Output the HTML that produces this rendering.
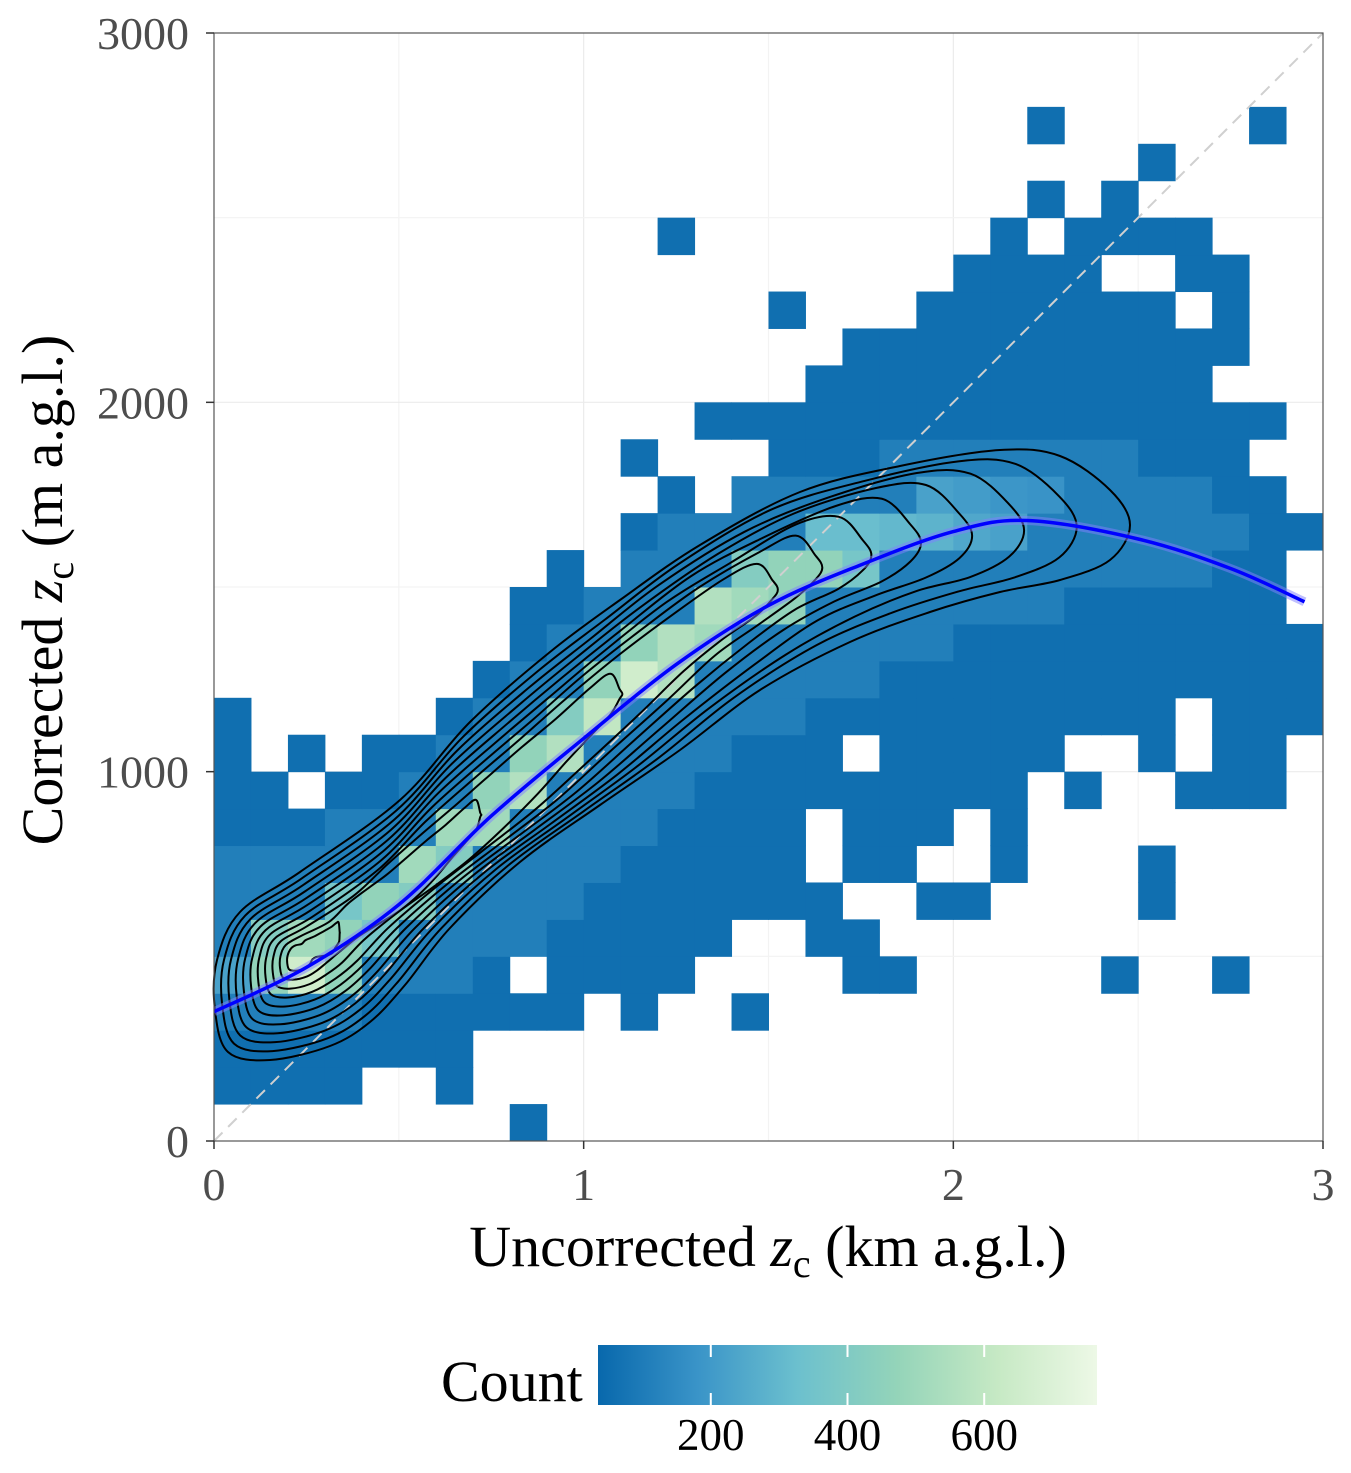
<!DOCTYPE html>
<html><head><meta charset="utf-8"><style>
body{margin:0;background:#fff}
svg text{font-family:"Liberation Serif",serif}
</style></head><body>
<svg id="chart" width="1351" height="1468" xmlns="http://www.w3.org/2000/svg">
<defs>
<linearGradient id="lg" x1="0" x2="1" y1="0" y2="0">
<stop offset="0" stop-color="#0868ac"/><stop offset="0.2" stop-color="#3a94c8"/><stop offset="0.4" stop-color="#6cc0ce"/><stop offset="0.6" stop-color="#94d4b9"/><stop offset="0.8" stop-color="#c6e9c4"/><stop offset="1" stop-color="#edf8e6"/>
</linearGradient>
<clipPath id="clip"><rect x="214" y="33" width="1109" height="1108"/></clipPath>
</defs>
<g id="grid"></g>
<g id="cells"></g>
<g id="contours" fill="none" stroke="#000" stroke-width="2"></g>
<g id="fit" clip-path="url(#clip)"></g>
<rect x="214" y="33" width="1109" height="1108" fill="none" stroke="#555" stroke-width="1.2"/>
<g id="axes"></g>
<text x="768" y="1266" text-anchor="middle" font-size="58">Uncorrected <tspan font-style="italic">z</tspan><tspan font-size="40" dy="11">c</tspan><tspan dy="-11"> (km a.g.l.)</tspan></text>
<text transform="translate(62,590) rotate(-90)" text-anchor="middle" font-size="58">Corrected <tspan font-style="italic">z</tspan><tspan font-size="40" dy="11">c</tspan><tspan dy="-11"> (m a.g.l.)</tspan></text>
<g>
<text x="441" y="1401" font-size="58">Count</text>
<rect x="598" y="1345" width="499" height="60" fill="url(#lg)"/>
<g id="legticks"></g>
</g>
</svg>
<script>
const rowCells = [
 "8","0-3,6","0-6","0-9,11,14","0-7,9-12,17,18,24,27","0-13,16,17","0-16,19,20,25","0-15,17,18,21,25",
 "0-15,17-19,21","0,1,3-21,23,26-28","0,2,4-16,18-22,25,27,28","0,6-25,27-29","7-29","8-29","8-28","9,11-28",
 "11-29","12,14-28","11,15-27","13-28","16-26","17-27","15,19-25,27","20-23,26,27","12,21,23-26","22,24","25","22,28"];
const midRows = ["","","","0-3","4-6","0,5-8","0-2,6-9","0-4,7-10","3-5,8-11","5-6,9-12","6-7,10-13","7-8,11-15","8-9,13-17","9-10,14-19","10-12,16-22","11-13,18-26","12-15,22-27","13-18,23-26","18-24"];
const hiX=[0,1,2,3,1,2,3,4,3,4,5,5,6,6,7,7,8,8,9,10,9,10,11,12,11,12,13,13,14,15,14,15,16,17,16,17,18,19,20,21,19,20,21,22];
const hiY=[4,4,4,4,5,5,5,5,6,6,6,7,7,8,8,9,9,10,10,11,11,12,12,12,13,13,13,14,14,14,15,15,15,15,16,16,16,16,16,16,17,17,17,17];
const hiC=[200,450,650,450,400,500,450,350,350,450,400,500,400,500,500,450,550,450,550,600,400,450,650,550,450,550,500,550,500,450,400,450,450,350,300,300,280,260,220,200,200,180,160,150];
const xTicks=[0,1,2,3], yTicks=[0,1000,2000,3000], legTicks=[200,400,600];
const fitX=[0,0.25,0.5,0.75,1,1.25,1.5,1.75,2,2.2,2.5,2.75,2.95];
const fitY=[350,470,640,880,1090,1290,1450,1560,1650,1680,1630,1550,1460];
const baseCount=25, midCount=80, cMin=1, cMax=765;
const NS="http://www.w3.org/2000/svg";
const sx=v=>214+v/3*1109, sy=v=>1141-v/3000*1108;
const stops=[[0,[8,104,172]],[0.2,[58,148,200]],[0.4,[108,192,206]],[0.6,[148,212,185]],[0.8,[198,233,196]],[1,[237,248,230]]];
function col(c){let t=Math.max(0,Math.min(1,(c-cMin)/(cMax-cMin)));for(let k=1;k<stops.length;k++){if(t<=stops[k][0]){const a=stops[k-1],b=stops[k],u=(t-a[0])/(b[0]-a[0]);return`rgb(${a[1].map((v,i)=>Math.round(v+(b[1][i]-v)*u)).join(',')})`;}}return"rgb(237,248,230)";}
function mk(tag,attrs,parent){const e=document.createElementNS(NS,tag);for(const k in attrs)e.setAttribute(k,attrs[k]);parent.appendChild(e);return e;}
function parseRange(s,f){if(!s)return;s.split(',').forEach(p=>{const r=p.split('-').map(Number);const a=r[0],b=r.length>1?r[1]:r[0];for(let i=a;i<=b;i++)f(i);});}
const grid=document.getElementById('grid');
for(let v=0.5;v<3;v+=0.5){const g=mk('line',{x1:sx(v),x2:sx(v),y1:33,y2:1141,stroke:v%1?'#f3f3f3':'#ebebeb','stroke-width':1.2},grid);}
for(let v=500;v<3000;v+=500){const g=mk('line',{y1:sy(v),y2:sy(v),x1:214,x2:1323,stroke:v%1000?'#f3f3f3':'#ebebeb','stroke-width':1.2},grid);}
const counts={};
midRows.forEach((s,j)=>parseRange(s,i=>counts[i+','+j]=midCount));
hiX.forEach((x,k)=>counts[x+','+hiY[k]]=hiC[k]);
const cells=document.getElementById('cells');
rowCells.forEach((s,j)=>parseRange(s,i=>{const c=counts[i+','+j]||baseCount;const e=mk('rect',{x:sx(i*0.1),y:sy((j+1)*100),width:sx(0.1)-sx(0)+0.5,height:sy(0)-sy(100)+0.5,fill:col(c)},cells);}));
const dl=mk('line',{x1:sx(0),y1:sy(0),x2:sx(3),y2:sy(3000),stroke:'#d0d0d0','stroke-width':2,'stroke-dasharray':'12,8'},cells);

// contours (decorative) - shrink outer loop toward ridge centerline
const cg=document.getElementById('contours');
const outer=[[217,960],[240,912],[300,872],[400,800],[470,722],[550,652],[620,600],[700,545],[800,492],[900,466],[1000,450],[1060,456],[1110,490],[1130,525],[1110,560],[1060,580],[1000,592],[930,612],[850,642],[760,690],[680,750],[600,805],[520,862],[450,928],[405,985],[370,1022],[330,1046],[270,1060],[228,1052],[215,1010]];
const C=[[300,955],[330,940],[400,885],[500,795],[600,705],[700,625],[800,568],[900,540],[1000,528],[1070,525]];
const cum=[0];for(let i=1;i<C.length;i++)cum.push(cum[i-1]+Math.hypot(C[i][0]-C[i-1][0],C[i][1]-C[i-1][1]));
const L=cum[cum.length-1];
function at(s){s=Math.max(0,Math.min(L,s));for(let i=1;i<C.length;i++){if(s<=cum[i]){const u=(s-cum[i-1])/(cum[i]-cum[i-1]);return[C[i-1][0]+(C[i][0]-C[i-1][0])*u,C[i-1][1]+(C[i][1]-C[i-1][1])*u];}}return C[C.length-1];}
function nearest(p){let best=null,bd=1e9;for(let i=1;i<C.length;i++){const a=C[i-1],b=C[i];const dx=b[0]-a[0],dy=b[1]-a[1];let u=((p[0]-a[0])*dx+(p[1]-a[1])*dy)/(dx*dx+dy*dy);u=Math.max(0,Math.min(1,u));const q=[a[0]+dx*u,a[1]+dy*u];const d=Math.hypot(p[0]-q[0],p[1]-q[1]);if(d<bd){bd=d;best={q:q,s:cum[i-1]+u*(cum[i]-cum[i-1])};}}return best;}
function smooth(P){const n=P.length;let d='M'+P[0].join(',');for(let i=0;i<n;i++){const p0=P[(i-1+n)%n],p1=P[i],p2=P[(i+1)%n],p3=P[(i+2)%n];d+=` C${p1[0]+(p2[0]-p0[0])/6},${p1[1]+(p2[1]-p0[1])/6} ${p2[0]-(p3[0]-p1[0])/6},${p2[1]-(p3[1]-p1[1])/6} ${p2[0]},${p2[1]}`;}return d+'Z';}
const NR=outer.map(nearest);
for(let k=0;k<11;k++){const sa=k<8?1-k*0.05:0.65-(k-7)*0.2, sp=Math.max(0.1,1-k*0.085);
 const P=outer.map((p,i)=>{const r=NR[i];const q2=at(r.s*sa);const ex=p[0]-r.q[0],ey=p[1]-r.q[1];const f=(r.s>=L-1)?sa:1;return[q2[0]+ex*sp*f,q2[1]+ey*sp*f];});
 const e=mk('path',{d:smooth(P)},cg);}
const fit=document.getElementById('fit');
const pts=fitX.map((x,i)=>[sx(x),sy(fitY[i])]);
let d='M'+pts[0].join(',');for(let i=1;i<pts.length;i++){const p0=pts[i-2]||pts[i-1],p1=pts[i-1],p2=pts[i],p3=pts[i+1]||p2;d+=` C${p1[0]+(p2[0]-p0[0])/6},${p1[1]+(p2[1]-p0[1])/6} ${p2[0]-(p3[0]-p1[0])/6},${p2[1]-(p3[1]-p1[1])/6} ${p2[0]},${p2[1]}`;}
const band=mk('path',{d:d,fill:'none',stroke:'#8080ff','stroke-width':9,opacity:0.5},fit);
const fl=mk('path',{d:d,fill:'none',stroke:'#0000ff','stroke-width':3.5},fit);
const ax=document.getElementById('axes');
xTicks.forEach(v=>{const t=mk('line',{x1:sx(v),x2:sx(v),y1:1141,y2:1149,stroke:'#333','stroke-width':1.5},ax);const l=mk('text',{x:sx(v),y:1200,'text-anchor':'middle','font-size':46,fill:'#4d4d4d'},ax);l.textContent=v;});
yTicks.forEach(v=>{const t=mk('line',{x1:206,x2:214,y1:sy(v),y2:sy(v),stroke:'#333','stroke-width':1.5},ax);const l=mk('text',{x:189,y:sy(v)+16,'text-anchor':'end','font-size':46,fill:'#4d4d4d'},ax);l.textContent=v;});
const lt=document.getElementById('legticks');
const lx=v=>598+(v-35)/(765-35)*499;
legTicks.forEach(v=>{mk('line',{x1:lx(v),x2:lx(v),y1:1345,y2:1357,stroke:'#fff','stroke-width':2},lt);mk('line',{x1:lx(v),x2:lx(v),y1:1393,y2:1405,stroke:'#fff','stroke-width':2},lt);const l=mk('text',{x:lx(v),y:1450,'text-anchor':'middle','font-size':45},lt);l.textContent=v;});
</script>
</body></html>
